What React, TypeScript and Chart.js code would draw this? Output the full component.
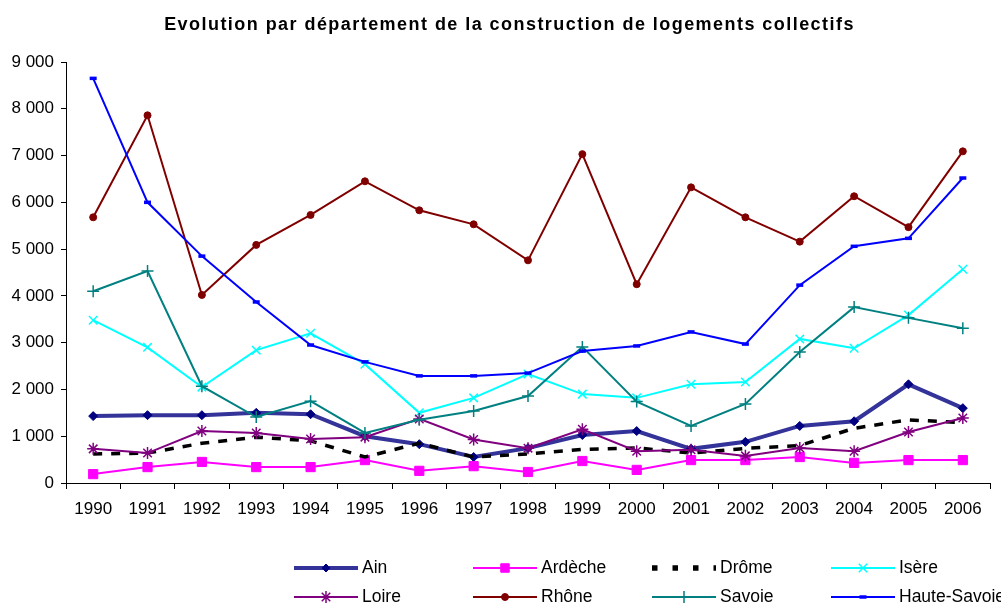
import React, { useEffect, useRef } from "react";
import { Chart, registerables } from "chart.js";
import { drawPoint } from "chart.js/helpers";

Chart.register(...registerables);

const years = ["1990","1991","1992","1993","1994","1995","1996","1997","1998","1999","2000","2001","2002","2003","2004","2005","2006"];
const ain = [1430,1450,1450,1500,1470,1000,830,555,745,1025,1110,730,880,1220,1320,2110,1600];
const ardeche = [190,340,450,340,340,490,260,360,235,470,280,490,490,555,430,490,490];
const drome = [620,640,850,980,900,555,850,555,620,720,750,640,740,800,1170,1350,1290];
const isere = [3480,2900,2050,2840,3200,2540,1500,1820,2330,1900,1820,2110,2160,3080,2880,3590,4570];
const loire = [730,640,1110,1070,940,980,1370,930,745,1150,680,710,580,750,680,1090,1390];
const rhone = [5680,7860,4020,5090,5730,6450,5830,5530,4760,7030,4250,6320,5680,5160,6130,5470,7090];
const savoie = [4100,4530,2070,1410,1750,1070,1350,1540,1860,2910,1740,1220,1690,2800,3760,3530,3310];
const hauteSavoie = [8650,6000,4850,3870,2950,2590,2290,2290,2350,2820,2930,3230,2970,4230,5060,5230,6520];

const seriesNames = ["Ain","Ardèche","Drôme","Isère","Loire","Rhône","Savoie","Haute-Savoie"];
const titleText = "Evolution par département de la construction de logements collectifs";
const yMin = 0;
const yMax = 9000;
const yStep = 1000;

const FONT = "'Liberation Sans', Arial, sans-serif";

const fmt = (v: number) => String(v).replace(/\B(?=(\d{3})+(?!\d))/g, " ");

const titleLegendPlugin = {
  id: "titleLegend",
  afterDraw(chart: any) {
    const ctx = chart.ctx;
    ctx.save();
    ctx.fillStyle = "#000";
    ctx.font = "bold 18px " + FONT;
    try { (ctx as any).letterSpacing = "1.45px"; } catch (e) {}
    ctx.textAlign = "center";
    ctx.textBaseline = "middle";
    ctx.fillText(titleText, chart.width / 2 + 9, 25);
    try { (ctx as any).letterSpacing = "0px"; } catch (e) {}
    ctx.restore();

    const cols = 4;
    const colW = 179;
    const lineLen = 64;
    const x0 = chart.chartArea.left + 228;
    const rowsY = [568, 597];
    chart.data.datasets.forEach((ds: any, i: number) => {
      const col = i % cols;
      const row = Math.floor(i / cols);
      const xs = x0 + col * colW;
      const y = rowsY[row];
      ctx.save();
      ctx.strokeStyle = ds.borderColor;
      ctx.lineWidth = ds.legendWidth || ds.borderWidth;
      ctx.setLineDash(ds.legendDash || ds.borderDash || []);
      ctx.beginPath();
      ctx.moveTo(xs, y);
      ctx.lineTo(xs + lineLen, y);
      ctx.stroke();
      ctx.setLineDash([]);
      if (ds.pointRadius > 0) {
        ctx.fillStyle = ds.pointBackgroundColor;
        ctx.strokeStyle = ds.pointBorderColor;
        ctx.lineWidth = ds.pointBorderWidth;
        drawPoint(ctx, { pointStyle: ds.pointStyle, rotation: 0, radius: ds.legendRadius || ds.pointRadius, borderWidth: ds.pointBorderWidth } as any, xs + lineLen / 2, y);
      }
      ctx.restore();
      ctx.save();
      ctx.fillStyle = "#000";
      ctx.font = "17.5px " + FONT;
      ctx.textAlign = "left";
      ctx.textBaseline = "middle";
      ctx.fillText(ds.label, xs + lineLen + 4, y);
      ctx.restore();
    });
  },
};

function mk(label: string, data: number[], color: string, width: number, style: any, radius: number, pColor: string, pBorder: number, dash?: number[]) {
  return {
    label,
    data,
    borderColor: color,
    borderWidth: width,
    borderDash: dash || [],
    pointStyle: style,
    pointRadius: radius,
    pointHoverRadius: radius,
    pointBackgroundColor: pColor,
    pointBorderColor: pColor,
    pointBorderWidth: pBorder,
    tension: 0,
    fill: false,
  };
}

export default function App() {
  const ref = useRef<HTMLCanvasElement>(null);
  useEffect(() => {
    if (!ref.current) return;
    const datasets: any[] = [
      mk(seriesNames[0], ain, "#333399", 4, "rectRot", 4.5, "#000080", 1),
      mk(seriesNames[1], ardeche, "#FF00FF", 2, "rect", 6.5, "#FF00FF", 1),
      mk(seriesNames[2], drome, "#000000", 3.5, "circle", 0, "#000000", 1, [9, 9]),
      mk(seriesNames[3], isere, "#00FFFF", 2, "crossRot", 6, "#00FFFF", 1.5),
      mk(seriesNames[4], loire, "#800080", 2, "star", 6, "#800080", 1.5),
      mk(seriesNames[5], rhone, "#800000", 2, "circle", 3.5, "#800000", 1),
      mk(seriesNames[6], savoie, "#008080", 2, "cross", 6, "#008080", 1.5),
      mk(seriesNames[7], hauteSavoie, "#0000FF", 2, "line", 3.5, "#0000FF", 3.5),
    ];
    datasets[2].legendDash = [5.5, 15];
    datasets[2].legendWidth = 5.5;
    datasets[0].legendRadius = 4;
    datasets[1].legendRadius = 6;
    const n = datasets.length;
    datasets.forEach((d, i) => (d.order = n - i));
    const chart = new Chart(ref.current, {
      type: "line",
      data: { labels: years, datasets },
      options: {
        animation: false,
        responsive: false,
        layout: { padding: { top: 62, right: 11, bottom: 80, left: 0 } },
        plugins: {
          legend: { display: false },
          title: { display: false },
          tooltip: { enabled: false },
        },
        scales: {
          x: {
            type: "category",
            offset: true,
            afterFit: (s: any) => { s.height = 40; },
            grid: { offset: true, drawOnChartArea: false, drawTicks: true, tickLength: 6, color: "#000" },
            border: { color: "#000", width: 1 },
            ticks: { color: "#000", font: { size: 17, family: FONT }, padding: 10, maxRotation: 0, autoSkip: false },
          },
          y: {
            min: yMin,
            max: yMax,
            afterFit: (s: any) => { s.width = 66; },
            grid: { drawOnChartArea: false, drawTicks: true, tickLength: 5, color: "#000" },
            border: { color: "#000", width: 1 },
            ticks: { stepSize: yStep, color: "#000", font: { size: 17, family: FONT }, padding: 7, callback: (v: any) => fmt(Number(v)) },
          },
        },
      } as any,
      plugins: [titleLegendPlugin as any],
    });
    return () => chart.destroy();
  }, []);
  return (
    <div style={{ position: "absolute", left: 0, top: 0, width: 1001, height: 603, background: "#fff" }}>
      <canvas ref={ref} width={1001} height={603} style={{ display: "block" }} />
    </div>
  );
}
